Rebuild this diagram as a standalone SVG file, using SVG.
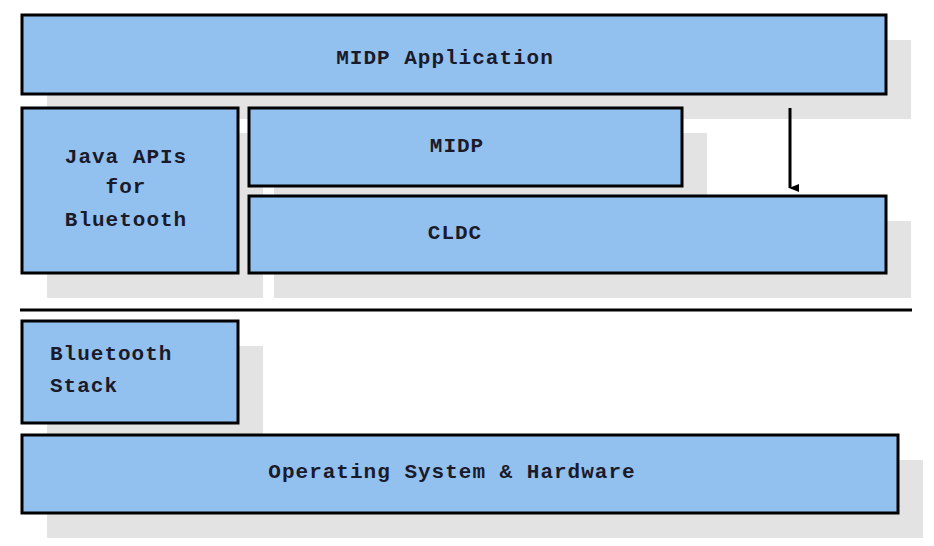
<svg xmlns="http://www.w3.org/2000/svg" width="934" height="546" viewBox="0 0 934 546">
<style>
.sh{fill:#e3e3e3}
.b{fill:#93c1ef;stroke:#000;stroke-width:3}
text{font-family:"Liberation Mono",monospace;font-size:21px;font-weight:bold;fill:#1a1a2a;text-anchor:middle;letter-spacing:1px}
</style>
<defs><marker id="a" markerWidth="8" markerHeight="10" refX="4" refY="9" orient="auto" markerUnits="userSpaceOnUse"><path d="M0,0 L8,0 L4,10 Z" fill="#000"/></marker></defs>
<rect width="934" height="546" fill="#fff"/>
<g class="shadows">
<rect class="sh" x="47" y="40" width="864" height="79"/>
<rect class="sh" x="47" y="133" width="216" height="165"/>
<rect class="sh" x="274" y="133" width="433" height="78"/>
<rect class="sh" x="274" y="221" width="637" height="77"/>
<rect class="sh" x="47" y="346" width="216" height="102"/>
<rect class="sh" x="47" y="460" width="876" height="78"/>
</g>
<g id="midp-app"><rect class="b" x="22" y="15" width="864" height="79"/><text x="445" y="64">MIDP Application</text></g>
<g id="java-apis"><rect class="b" x="22" y="108" width="216" height="165"/><text x="126" y="163">Java APIs</text><text x="126" y="193">for</text><text x="126" y="226">Bluetooth</text></g>
<g id="midp"><rect class="b" x="249" y="108" width="433" height="78"/><text x="457" y="152">MIDP</text></g>
<g id="cldc"><rect class="b" x="249" y="196" width="637" height="77"/><text x="455" y="239">CLDC</text></g>
<g id="bt-stack"><rect class="b" x="22" y="321" width="216" height="102"/><text x="50" y="360" style="text-anchor:start">Bluetooth</text><text x="50" y="392" style="text-anchor:start">Stack</text></g>
<g id="os"><rect class="b" x="22" y="435" width="876" height="78"/><text x="452" y="478">Operating System &amp; Hardware</text></g>
<g id="connectors">
<line x1="20" y1="310" x2="912" y2="310" stroke="#000" stroke-width="3"/>
<line x1="790" y1="108" x2="790" y2="188" stroke="#000" stroke-width="3" marker-end="url(#a)"/>
</g>
</svg>
